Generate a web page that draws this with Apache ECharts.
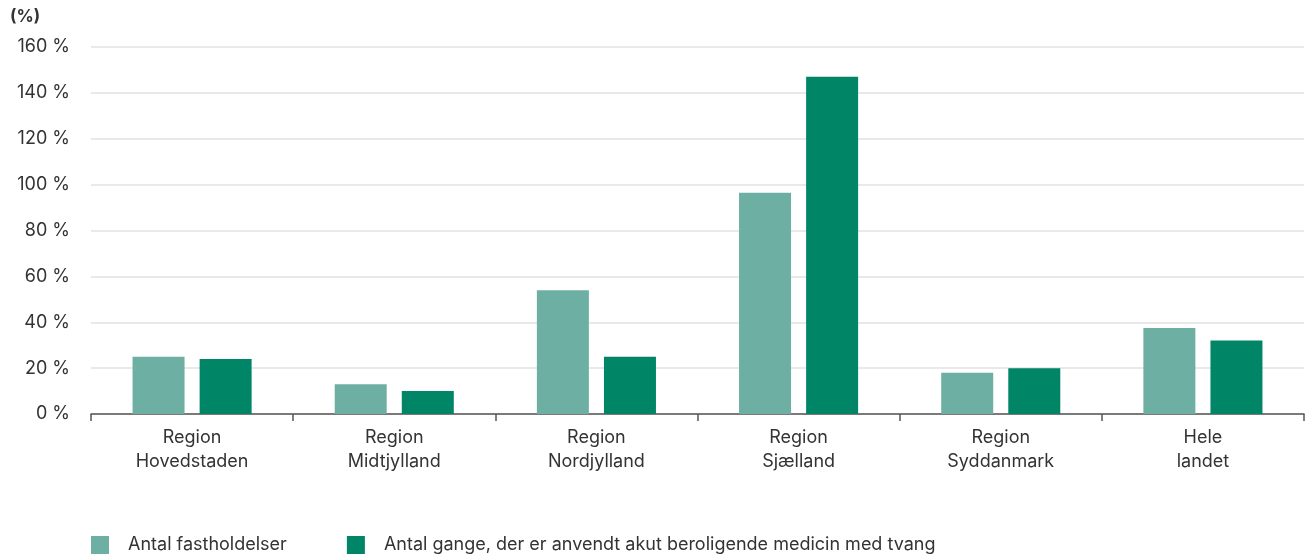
<!DOCTYPE html>
<html>
<head>
    <meta charset="utf-8">
    <title>ECharts</title>
    <script src="https://cdn.jsdelivr.net/npm/echarts@6/dist/echarts.min.js"></script>
    <style>
        html, body { margin: 0; padding: 0; background: #fff; }
    </style>
</head>
<body>
<div id="main" style="width: 1312px;height:558px;"></div>
<script type="text/javascript">
    // data -------------------
    var categories = ['Region\nHovedstaden', 'Region\nMidtjylland', 'Region\nNordjylland', 'Region\nSjælland', 'Region\nSyddanmark', 'Hele\nlandet'];
    var seriesNames = ['Antal fastholdelser', 'Antal gange, der er anvendt akut beroligende medicin med tvang'];
    var fastholdelser = [25, 13, 54, 96.5, 18, 37.5];
    var medicin = [24, 10, 25, 147, 20, 32];
    var yTicks = { min: 0, max: 160, interval: 20 };

    var font = 'Inter, "Noto Sans", sans-serif';
    var textColor = '#333';

    var myChart = echarts.init(document.getElementById('main'));

    var option = {
        animation: false,
        textStyle: { fontFamily: font },
        title: {
            text: '(%)',
            left: 10,
            top: 8,
            padding: 0,
            textStyle: { fontFamily: font, fontSize: 17, fontWeight: 'bold', color: '#333' }
        },
        legend: {
            left: 91,
            bottom: 4,
            padding: 0,
            icon: 'rect',
            itemWidth: 18,
            itemHeight: 18,
            itemGap: 60,
            textStyle: { fontFamily: font, fontSize: 18, color: textColor, padding: [0, 0, 0, 14] },
            data: seriesNames
        },
        grid: { left: 91, right: 8, top: 47, bottom: 144, containLabel: false },
        xAxis: {
            type: 'category',
            data: categories,
            axisLine: { lineStyle: { color: '#555', width: 1.5 } },
            axisTick: { show: true, length: 7, lineStyle: { color: '#555', width: 1.5 } },
            axisLabel: { fontFamily: font, fontSize: 18, color: textColor, lineHeight: 24, margin: 12 }
        },
        yAxis: {
            type: 'value',
            min: yTicks.min,
            max: yTicks.max,
            interval: yTicks.interval,
            axisLine: { show: false },
            axisTick: { show: false },
            splitLine: { lineStyle: { color: '#e2e2e2', width: 1.5 } },
            axisLabel: { formatter: '{value} %', fontFamily: font, fontSize: 18, color: textColor, margin: 21 }
        },
        series: [
            {
                name: seriesNames[0],
                type: 'bar',
                barWidth: 52,
                barGap: '29%',
                itemStyle: { color: '#6db0a3' },
                data: fastholdelser
            },
            {
                name: seriesNames[1],
                type: 'bar',
                barWidth: 52,
                barGap: '29%',
                itemStyle: { color: '#008566' },
                data: medicin
            }
        ]
    };
    myChart.setOption(option);
</script>
</body>
</html>
